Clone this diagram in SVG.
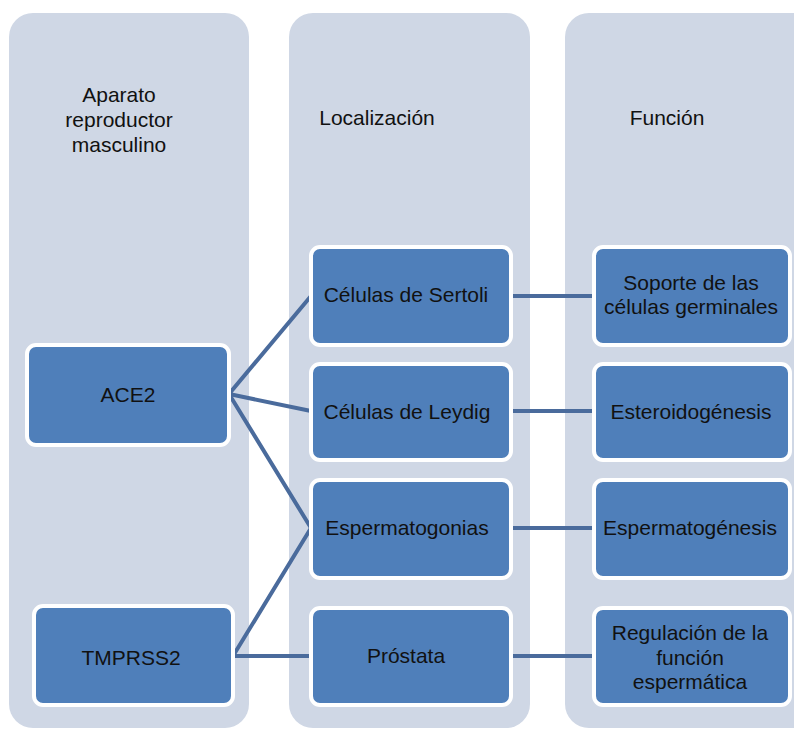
<svg xmlns="http://www.w3.org/2000/svg" width="794" height="731" viewBox="0 0 794 731">
<style>
.panel{fill:#cfd7e5}
.node{fill:#4f7fba;stroke:#ffffff;stroke-width:4}
.t{font-family:"Liberation Sans",Arial,sans-serif;font-size:21px;fill:#111111;text-anchor:middle}
.c{stroke:#4a6b9c;stroke-width:4;fill:none;stroke-linecap:round}
</style>
<rect width="794" height="731" fill="#ffffff"/>
<g id="panels">
<rect class="panel" x="9" y="13" width="240" height="715" rx="24"/>
<rect class="panel" x="289" y="13" width="241" height="715" rx="24"/>
<rect class="panel" x="565" y="13" width="260" height="715" rx="24"/>
<text class="t" x="119" y="102">Aparato</text>
<text class="t" x="119" y="127">reproductor</text>
<text class="t" x="119" y="152">masculino</text>
<text class="t" x="377" y="125">Localización</text>
<text class="t" x="667" y="125">Función</text>
</g>
<g id="connectors">
<polyline class="c" points="311,296 229,394 311,411"/>
<line class="c" x1="229" y1="394" x2="311" y2="528"/>
<polyline class="c" points="311,528 233,656 311,656"/>
<line class="c" x1="511" y1="296" x2="594" y2="296"/>
<line class="c" x1="511" y1="411" x2="594" y2="411"/>
<line class="c" x1="511" y1="528" x2="594" y2="528"/>
<line class="c" x1="511" y1="656" x2="594" y2="656"/>
</g>
<g id="ace2"><rect class="node" x="27" y="345" width="202" height="100" rx="9"/><text class="t" x="128" y="402">ACE2</text></g>
<g id="tmprss2"><rect class="node" x="34" y="606" width="199" height="99" rx="9"/><text class="t" x="131" y="665">TMPRSS2</text></g>
<g id="sertoli"><rect class="node" x="311" y="247" width="200" height="98" rx="9"/><text class="t" x="406" y="302">Células de Sertoli</text></g>
<g id="leydig"><rect class="node" x="311" y="364" width="200" height="96" rx="9"/><text class="t" x="407" y="419">Células de Leydig</text></g>
<g id="espermatogonias"><rect class="node" x="311" y="480" width="200" height="98" rx="9"/><text class="t" x="407" y="535">Espermatogonias</text></g>
<g id="prostata"><rect class="node" x="311" y="608" width="200" height="97" rx="9"/><text class="t" x="406" y="663">Próstata</text></g>
<g id="soporte"><rect class="node" x="594" y="247" width="196" height="98" rx="9"/><text class="t" x="691" y="290">Soporte de las</text><text class="t" x="691" y="314">células germinales</text></g>
<g id="esteroidogenesis"><rect class="node" x="594" y="364" width="196" height="96" rx="9"/><text class="t" x="691" y="419">Esteroidogénesis</text></g>
<g id="espermatogenesis"><rect class="node" x="594" y="480" width="196" height="98" rx="9"/><text class="t" x="690" y="535">Espermatogénesis</text></g>
<g id="regulacion"><rect class="node" x="594" y="608" width="196" height="97" rx="9"/><text class="t" x="690" y="640">Regulación de la</text><text class="t" x="690" y="665">función</text><text class="t" x="690" y="689">espermática</text></g>
</svg>
